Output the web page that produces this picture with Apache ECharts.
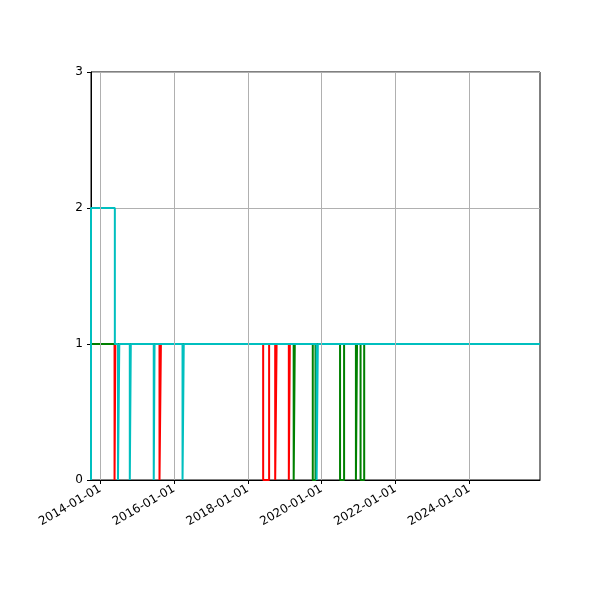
<!DOCTYPE html>
<html><head><meta charset="utf-8">
<script src="https://cdn.jsdelivr.net/npm/echarts@6/dist/echarts.min.js"></script>
<style>html,body{margin:0;background:#fff}#c{width:600px;height:600px}</style>
</head><body><div id="c"></div>
<script>
const xStart = '2013-10-01', xEnd = '2025-12-01';
const tickDates = ['2014-01-01','2016-01-01','2018-01-01','2020-01-01','2022-01-01','2024-01-01'];
// dips to 0 per series: [from, to]
const redDips = [['2014-05-22','2014-05-30'],['2015-08-10','2015-08-24'],['2018-06-01','2018-07-30'],['2018-09-28','2018-10-12'],['2019-02-10','2019-02-20']];
const greenDips = [['2019-03-30','2019-04-10'],['2019-10-05','2019-11-01'],['2020-07-01','2020-08-10'],['2020-12-05','2020-12-16'],['2021-01-20','2021-02-25']];
const cyanDips = [['2014-06-25','2014-07-08'],['2014-10-20','2014-10-30'],['2015-06-14','2015-06-22'],['2016-03-25','2016-04-06'],['2019-11-12','2019-11-24']];
const cyanHigh = ['2013-10-01','2014-05-25']; // value 2 in this range

const t = d => Date.parse(d + 'T00:00:00Z');
function build(dips, high) {
  const pts = [[t(xStart), 0]];
  if (high) { pts.push([t(high[0]), 2], [t(high[1]), 2], [t(high[1]), 1]); } else pts.push([t(xStart), 1]);
  for (const [a, b] of dips) pts.push([t(a), 1], [t(a), 0], [t(b), 0], [t(b), 1]);
  pts.push([t(xEnd), 1]);
  return pts;
}
const line = (name, color, data) => ({name, type: 'line', data, symbol: 'none', lineStyle: {color, width: 2}, silent: true});
const ticks = tickDates.map(t);
const chart = echarts.init(document.getElementById('c'));
chart.setOption({
  animation: false,
  grid: {left: 91, right: 60, top: 72, bottom: 120, show: true, borderColor: '#000', borderWidth: 1},
  xAxis: {
    type: 'value', min: t(xStart), max: t(xEnd), scale: true,
    axisLine: {lineStyle: {color: '#000'}},
    axisTick: {customValues: ticks, length: 4, lineStyle: {color: '#000'}},
    axisLabel: {customValues: ticks, rotate: 30, color: '#000', fontSize: 12, fontFamily: 'DejaVu Sans',
      formatter: v => new Date(v).toISOString().slice(0, 10)},
    splitLine: {show: false}
  },
  yAxis: {
    type: 'value', min: 0, max: 3, interval: 1,
    axisLine: {show: true, lineStyle: {color: '#000'}},
    axisTick: {show: true, length: 4, lineStyle: {color: '#000'}},
    axisLabel: {color: '#000', fontSize: 12, fontFamily: 'DejaVu Sans'},
    splitLine: {lineStyle: {color: '#b0b0b0'}}
  },
  series: [
    {type: 'line', data: [], markLine: {symbol: 'none', silent: true, label: {show: false},
      lineStyle: {color: '#b0b0b0', type: 'solid', width: 1}, data: ticks.map(v => ({xAxis: v}))}},
    line('blue', '#1f1fd0', build([])),
    line('red', '#ff0000', build(redDips)),
    line('green', '#008000', build(greenDips)),
    line('cyan', '#00bfbf', build(cyanDips, cyanHigh))
  ]
});
</script></body></html>
